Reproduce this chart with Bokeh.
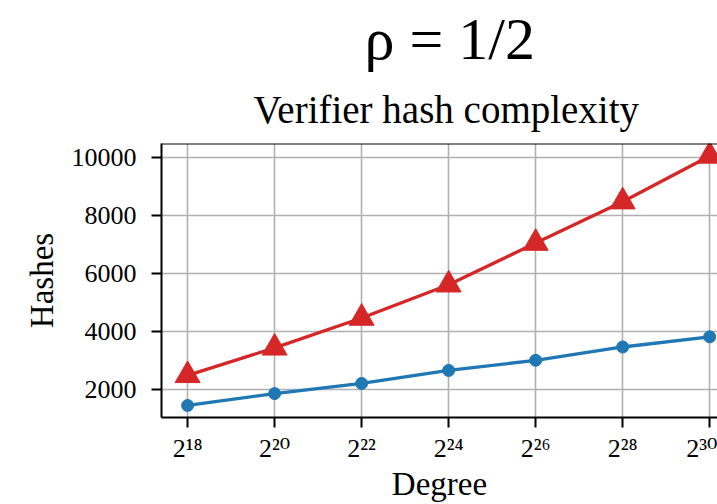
from bokeh.plotting import figure
from bokeh.models import FixedTicker, Title, Span, Range1d
from bokeh.embed import file_html
from bokeh.resources import INLINE

degree_exp = [18, 20, 22, 24, 26, 28, 30]
degrees = [2 ** e for e in degree_exp]
tick_labels = ["2¹⁸", "2²⁰", "2²²", "2²⁴", "2²⁶", "2²⁸", "2³⁰"]
red_hashes = [2490, 3440, 4470, 5620, 7060, 8490, 10070]
blue_hashes = [1450, 1860, 2210, 2660, 3010, 3470, 3820]
y_ticks = [2000, 4000, 6000, 8000, 10000]

FONT = "'Liberation Serif', 'DejaVu Serif', serif"

p = figure(width=717, height=504, output_backend="svg", toolbar_location=None,
           x_axis_type="log", title=None,
           x_range=Range1d(2 ** 17.4, 2 ** 30.18), y_range=Range1d(1034, 10500),
           min_border_left=161, min_border_right=0, min_border_top=143,
           min_border_bottom=86)

p.outline_line_color = None
p.background_fill_color = "white"
p.border_fill_color = "white"

p.xgrid.grid_line_color = "#b0b0b0"
p.ygrid.grid_line_color = "#b0b0b0"
p.xgrid.grid_line_width = 1.6
p.ygrid.grid_line_width = 1.6

p.xaxis.ticker = FixedTicker(ticks=degrees)
p.xaxis.major_label_overrides = {d: t for d, t in zip(degrees, tick_labels)}
p.yaxis.ticker = FixedTicker(ticks=y_ticks)
p.xgrid.ticker = FixedTicker(ticks=degrees)
p.ygrid.ticker = FixedTicker(ticks=y_ticks)

for ax in (p.xaxis[0], p.yaxis[0]):
    ax.axis_line_color = "black"
    ax.axis_line_width = 2
    ax.major_tick_line_color = "black"
    ax.major_tick_line_width = 2
    ax.major_tick_out = 10
    ax.major_tick_in = 0
    ax.minor_tick_line_color = None
    ax.major_label_text_font = FONT
    ax.major_label_text_font_size = "26px"
    ax.major_label_text_color = "black"
    ax.axis_label_text_font = FONT
    ax.axis_label_text_font_size = "33px"
    ax.axis_label_text_font_style = "normal"
    ax.axis_label_text_color = "black"

p.xaxis.axis_label = "Degree"
p.yaxis.axis_label = "Hashes"
p.xaxis.major_label_standoff = 6
p.yaxis.major_label_standoff = 15
p.xaxis.axis_label_standoff = 0
p.yaxis.axis_label_standoff = 9

top = Span(location=10500, dimension="width", line_color="black", line_width=2)
p.add_layout(top)

p.line(degrees, red_hashes, line_color="#d62728", line_width=3.3)
p.scatter(degrees, red_hashes, marker="triangle", size=25, fill_color="#d62728",
          line_color="#d62728")
p.line(degrees, blue_hashes, line_color="#1f77b4", line_width=3.3)
p.scatter(degrees, blue_hashes, marker="circle", size=12, fill_color="#1f77b4",
          line_color="#1f77b4")

sub = Title(text="Verifier hash complexity", align="left", offset=92,
            text_font=FONT, text_font_size="39px", text_font_style="normal",
            text_color="black", standoff=25)
main = Title(text="ρ = 1/2", align="left", offset=203, text_font=FONT,
             text_font_size="60px", text_font_style="normal",
             text_color="black", standoff=4)
p.add_layout(sub, "above")
p.add_layout(main, "above")

open("out.html", "w").write(file_html(p, INLINE))
